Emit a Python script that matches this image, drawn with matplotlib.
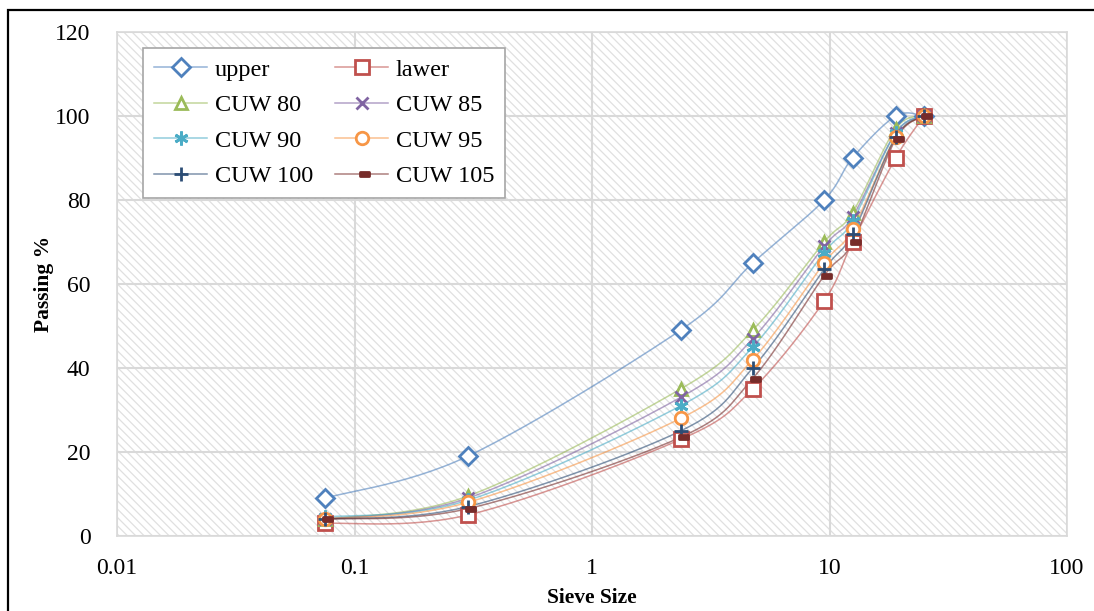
import numpy as np
import matplotlib
matplotlib.use('Agg')
import matplotlib.pyplot as plt
from matplotlib.patches import Rectangle
from matplotlib.path import Path
from matplotlib.colors import to_rgba

# sieve sizes (mm) and passing %
sieve = [0.075, 0.3, 2.36, 4.75, 9.5, 12.5, 19, 25]
upper = [9, 19, 49, 65, 80, 90, 100, 100]
lawer = [3, 5, 23, 35, 56, 70, 90, 100]
cuw80 = [4, 9.5, 35, 49, 70, 77, 97, 100]
cuw85 = [4, 9, 33, 47, 69, 76, 96, 100]
cuw90 = [4.5, 8.5, 31, 45, 67.5, 75, 96, 100]
cuw95 = [4, 8, 28, 42, 65, 73, 95, 100]
cuw100 = [4, 7, 25, 40, 63.5, 72, 95, 100]
cuw105 = [4, 6.5, 23.5, 37.5, 62, 70, 94.5, 100]

names = ['upper', 'lawer', 'CUW 80', 'CUW 85', 'CUW 90', 'CUW 95', 'CUW 100', 'CUW 105']
series = [upper, lawer, cuw80, cuw85, cuw90, cuw95, cuw100, cuw105]
colors = ['#4F81BD', '#C0504D', '#9BBB59', '#8064A2', '#4BACC6', '#F79646', '#2C4D75', '#772C2A']

dash = Path([(-0.3, -0.35), (1.0, -0.35), (1.0, 0.35), (-0.3, 0.35), (-0.3, -0.35)],
            [Path.MOVETO, Path.LINETO, Path.LINETO, Path.LINETO, Path.CLOSEPOLY])
markers = ['D', 's', '^', 'x', (6, 2, 0), 'o', '+', dash]
msizes = [9, 10, 9, 9, 10, 9, 10, 10]
filled = [False, False, False, True, True, False, True, True]


def smooth(x, y, n=30):
    # excel-like smoothed line: bezier through points in screen-ish space
    u = np.log10(x) * 237.0
    v = np.array(y, dtype=float) * 4.2
    pts = np.column_stack([u, v])
    out = []
    t = np.linspace(0, 1, n)[:, None]
    for i in range(len(pts) - 1):
        p0, p3 = pts[i], pts[i + 1]
        prev = pts[i - 1] if i > 0 else pts[i]
        nxt = pts[i + 2] if i + 2 < len(pts) else pts[i + 1]
        p1 = p0 + (p3 - prev) / 6.0
        p2 = p3 - (nxt - p0) / 6.0
        seg = ((1 - t) ** 3) * p0 + 3 * ((1 - t) ** 2) * t * p1 + 3 * (1 - t) * t ** 2 * p2 + t ** 3 * p3
        out.append(seg if i == 0 else seg[1:])
    out = np.vstack(out)
    return 10 ** (out[:, 0] / 237.0), out[:, 1] / 4.2


plt.rcParams['font.family'] = ['Liberation Serif', 'DejaVu Serif']
plt.rcParams['hatch.linewidth'] = 0.9
plt.rcParams['hatch.color'] = '#e0e0e0'

fig = plt.figure(figsize=(10.94, 6.11), dpi=100)
ax = fig.add_axes([117 / 1094, 75 / 611, 950 / 1094, 504 / 611])

ax.add_patch(Rectangle((0, 0), 1, 1, transform=ax.transAxes, facecolor='white',
                       edgecolor='#e0e0e0', hatch='\\\\\\\\', linewidth=0, zorder=0))

handles = []
for name, vals, c, m, ms, f in zip(names, series, colors, markers, msizes, filled):
    sx, sy = smooth(sieve, vals)
    lc = to_rgba(c, 0.6)
    ax.plot(sx, sy, color=lc, lw=1.1, zorder=2)
    ax.plot(sieve, vals, linestyle='none', marker=m, markersize=ms,
            markerfacecolor=c if f else 'white', markeredgecolor=c,
            markeredgewidth=2, zorder=3)
    # legend proxy
    h, = ax.plot([], [], color=lc, lw=1.1, marker=m, markersize=ms,
                 markerfacecolor=c if f else 'white', markeredgecolor=c,
                 markeredgewidth=2, label=name)
    handles.append(h)

ax.set_xscale('log')
ax.set_xlim(0.01, 100)
ax.set_ylim(0, 120)
ax.set_yticks(range(0, 121, 20))
ax.set_xticks([0.01, 0.1, 1, 10, 100])
ax.set_xticklabels(['0.01', '0.1', '1', '10', '100'])
ax.minorticks_off()
ax.grid(True, color='#d9d9d9', lw=1.5, zorder=1)
ax.set_axisbelow(True)
ax.tick_params(length=0, labelsize=17)
ax.tick_params(axis='y', pad=19)
ax.tick_params(axis='x', pad=16)
for s in ax.spines.values():
    s.set_color('#d9d9d9')
    s.set_linewidth(1.2)

ax.set_xlabel('Sieve Size', fontsize=15.5, fontweight='bold', labelpad=6)
ax.set_ylabel('Passing %', fontsize=15.5, fontweight='bold', labelpad=1)

# row-wise legend order
order = [0, 2, 4, 6, 1, 3, 5, 7]
leg = ax.legend([handles[i] for i in order], [names[i] for i in order], ncol=2,
                loc='upper left', bbox_to_anchor=(26 / 950, 1 - 16 / 504), borderaxespad=0,
                fontsize=17.5, frameon=True, fancybox=False, framealpha=1,
                edgecolor='#a6a6a6', handlelength=2.2, labelspacing=0.55,
                columnspacing=0.9, handletextpad=0.3, borderpad=0.45)
leg.get_frame().set_linewidth(1.2)

# outer border of the chart
fig.patches.append(Rectangle((8 / 1094, -0.1), 1.2, 1 - 10 / 611 + 0.1,
                             transform=fig.transFigure, fill=False,
                             edgecolor='black', linewidth=1.6, zorder=10))

fig.savefig('out.png', dpi=100)
